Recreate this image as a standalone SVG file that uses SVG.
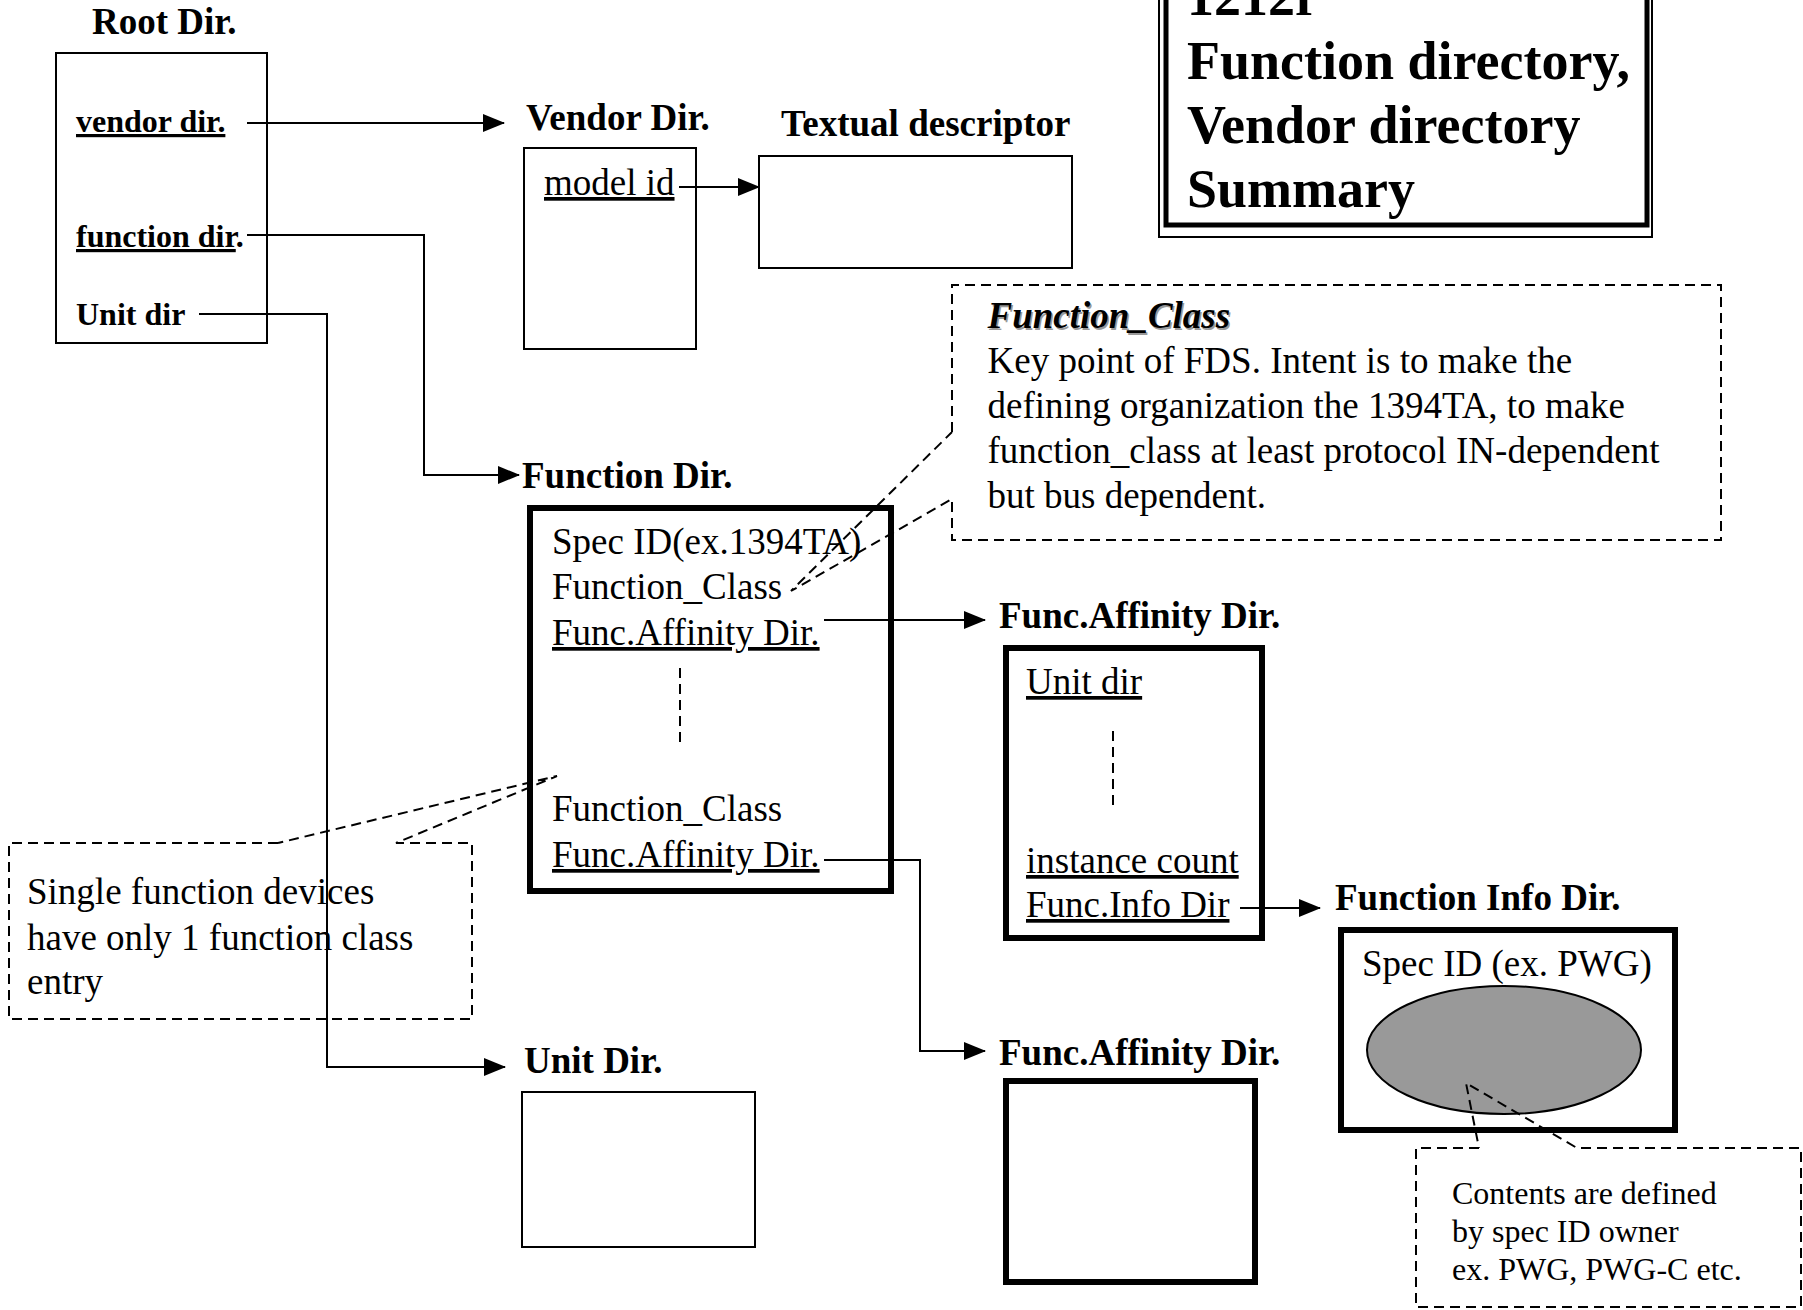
<svg xmlns="http://www.w3.org/2000/svg" width="1803" height="1310" viewBox="0 0 1803 1310">
<defs>
<marker id="arr" markerUnits="userSpaceOnUse" markerWidth="22" markerHeight="18" refX="21" refY="9" orient="auto">
<path d="M0,0 L22,9 L0,18 z" fill="#000"/>
</marker>
<style>
text{font-family:"Liberation Serif","Times New Roman",serif;fill:#000}
.h{font-size:37px;font-weight:bold}
.r{font-size:37px}
.rb{font-size:32px;font-weight:bold}
.s{font-size:32px}
.u{text-decoration:underline}
.thin{fill:#fff;stroke:#000;stroke-width:2}
.thick{fill:#fff;stroke:#000;stroke-width:6}
.dash{fill:none;stroke:#000;stroke-width:2;stroke-dasharray:10 6}
.con{fill:none;stroke:#000;stroke-width:2}
</style>
</defs>
<rect width="1803" height="1310" fill="#fff"/>

<g id="title">
<rect x="1159" y="-20" width="493" height="257" fill="#fff" stroke="#000" stroke-width="2"/>
<rect x="1166" y="-20" width="481" height="245" fill="none" stroke="#000" stroke-width="5"/>
<text x="1187" y="15" style="font-size:54px;font-weight:bold">1212r</text>
<text x="1187" y="79" style="font-size:54px;font-weight:bold">Function directory,</text>
<text x="1187" y="143" style="font-size:54px;font-weight:bold">Vendor directory</text>
<text x="1187" y="207" style="font-size:54px;font-weight:bold">Summary</text>
</g>

<g id="root">
<text class="h" x="92" y="34">Root Dir.</text>
<rect class="thin" x="56" y="53" width="211" height="290"/>
<text class="rb u" x="76" y="132">vendor dir.</text>
<text class="rb" x="76" y="247"><tspan class="u">function dir</tspan>.</text>
<text class="rb" x="76" y="325">Unit dir</text>
</g>

<g id="vendor">
<text class="h" x="526" y="130">Vendor Dir.</text>
<rect class="thin" x="524" y="148" width="172" height="201"/>
<text class="r u" x="544" y="195">model id</text>
</g>

<g id="textual">
<text class="h" x="781" y="136">Textual descriptor</text>
<rect class="thin" x="759" y="156" width="313" height="112"/>
</g>

<g id="function-dir">
<text class="h" x="522" y="488">Function Dir.</text>
<rect class="thick" x="530" y="508" width="361" height="383"/>
<text class="r" x="552" y="554">Spec ID(ex.1394TA)</text>
<text class="r" x="552" y="599">Function_Class</text>
<text class="r u" x="552" y="645">Func.Affinity Dir.</text>
<line class="dash" x1="680" y1="668" x2="680" y2="742"/>
<text class="r" x="552" y="821">Function_Class</text>
<text class="r u" x="552" y="867">Func.Affinity Dir.</text>
</g>

<g id="note-function-class">
<path class="dash" d="M952,432 L952,285 L1721,285 L1721,540 L952,540 L952,499 L791,591 L952,432"/>
<text x="989" y="329.5" style="font-size:37px;font-weight:bold;font-style:italic;fill:#999">Function_Class</text>
<text x="987.5" y="328" style="font-size:37px;font-weight:bold;font-style:italic">Function_Class</text>
<text class="r" x="987.5" y="373">Key point of FDS. Intent is to make the</text>
<text class="r" x="987.5" y="418">defining organization the 1394TA, to make</text>
<text class="r" x="987.5" y="463">function_class at least protocol IN-dependent</text>
<text class="r" x="987.5" y="508">but bus dependent.</text>
</g>

<g id="note-single">
<path class="dash" d="M278,843 L9,843 L9,1019 L472,1019 L472,843 L396,843 L557,776 L278,843"/>
<text class="r" x="27" y="904">Single function devices</text>
<text class="r" x="27" y="950">have only 1 function class</text>
<text class="r" x="27" y="994">entry</text>
</g>

<g id="func-affinity-1">
<text class="h" x="999" y="628">Func.Affinity Dir.</text>
<rect class="thick" x="1006" y="648" width="256" height="290"/>
<text class="r u" x="1026" y="694">Unit dir</text>
<line class="dash" x1="1113" y1="731" x2="1113" y2="806"/>
<text class="r u" x="1026" y="873">instance count</text>
<text class="r u" x="1026" y="917">Func.Info Dir</text>
</g>

<g id="function-info">
<text class="h" x="1335" y="910">Function Info Dir.</text>
<rect class="thick" x="1341" y="930" width="334" height="200"/>
<text class="r" x="1362" y="976">Spec ID (ex. PWG)</text>
<ellipse cx="1504" cy="1050" rx="137" ry="64" fill="#999" stroke="#000" stroke-width="2"/>
</g>

<g id="note-contents">
<path class="dash" d="M1479,1148 L1416,1148 L1416,1307 L1801,1307 L1801,1148 L1577,1148 L1466,1083 L1479,1148"/>
<text class="s" x="1452" y="1204">Contents are defined</text>
<text class="s" x="1452" y="1242">by spec ID owner</text>
<text class="s" x="1452" y="1280">ex. PWG, PWG-C etc.</text>
</g>

<g id="unit-dir">
<text class="h" x="524" y="1073">Unit Dir.</text>
<rect class="thin" x="522" y="1092" width="233" height="155"/>
</g>

<g id="func-affinity-2">
<text class="h" x="999" y="1065">Func.Affinity Dir.</text>
<rect class="thick" x="1006" y="1081" width="249" height="201"/>
</g>

<g id="connectors">
<polyline class="con" points="247,123 504,123" marker-end="url(#arr)"/>
<polyline class="con" points="247,235 424,235 424,475 519,475" marker-end="url(#arr)"/>
<polyline class="con" points="199,314 327,314 327,1067 505,1067" marker-end="url(#arr)"/>
<polyline class="con" points="679,187 759,187" marker-end="url(#arr)"/>
<polyline class="con" points="824,620 985,620" marker-end="url(#arr)"/>
<polyline class="con" points="824,860 920,860 920,1051 985,1051" marker-end="url(#arr)"/>
<polyline class="con" points="1240,908 1320,908" marker-end="url(#arr)"/>
</g>
</svg>
